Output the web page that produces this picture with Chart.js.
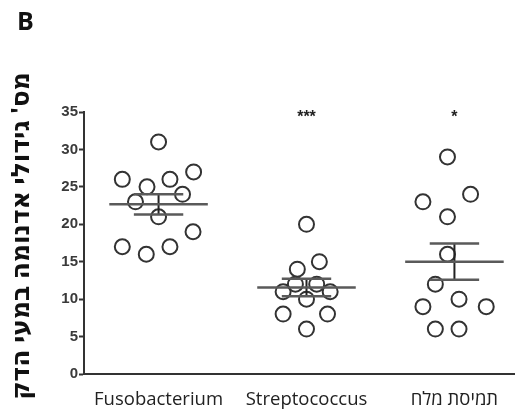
<!DOCTYPE html>
<html>
<head>
<meta charset="utf-8">
<script src="https://cdn.jsdelivr.net/npm/chart.js@4"></script>
<style>
  html, body { margin: 0; padding: 0; background: #fff; }
  #wrap { width: 524px; height: 412px; }
</style>
</head>
<body>
<div id="wrap"><canvas id="myChart"></canvas></div>
<script>
const categories = ["Fusobacterium", "Streptococcus", "תמיסת מלח"];
const yTicks = [0, 5, 10, 15, 20, 25, 30, 35];
const yTitle = "מס' גידולי אדנומה במעי הדק";
const stars = ["", "***", "*"];

// tumour counts per mouse
const fusobacterium = [31, 27, 26, 26, 25, 24, 23, 21, 19, 17, 17, 16];
const streptococcus = [20, 15, 14, 12, 12, 11, 11, 10, 8, 8, 6];
const saline = [29, 24, 23, 21, 16, 12, 10, 9, 9, 6, 6];

// horizontal spread of the dots inside each column
const fusoJitter = [0, 0.237, -0.245, 0.077, -0.078, 0.162, -0.156, 0, 0.233, -0.245, 0.077, -0.083];
const strepJitter = [0, 0.087, -0.062, -0.075, 0.069, -0.158, 0.16, 0, -0.158, 0.142, 0];
const salineJitter = [-0.047, 0.109, -0.213, -0.047, -0.047, -0.129, 0.031, -0.213, 0.215, -0.129, 0.031];

const groups = [fusobacterium, streptococcus, saline];
const jitters = [fusoJitter, strepJitter, salineJitter];

function meanSem(arr) {
    const n = arr.length;
    const m = arr.reduce((a, b) => a + b, 0) / n;
    const sd = Math.sqrt(arr.reduce((a, b) => a + (b - m) * (b - m), 0) / (n - 1));
    return [m, sd / Math.sqrt(n)];
}

const dotSets = groups.map((vals, g) => ({
    type: "scatter",
    data: vals.map((v, i) => ({ x: g + 1 + jitters[g][i], y: v })),
    pointRadius: 7.5,
    pointHoverRadius: 7.5,
    pointBorderWidth: 2,
    borderColor: "#333",
    backgroundColor: "rgba(0,0,0,0)",
}));

const meanData = [];
const semData = [];
const capData = [];
groups.forEach((vals, g) => {
    const c = g + 1;
    const [m, s] = meanSem(vals);
    meanData.push({ x: c - 0.333, y: m }, { x: c + 0.333, y: m }, { x: c, y: null });
    semData.push({ x: c, y: m - s }, { x: c, y: m + s }, { x: c, y: null });
    capData.push({ x: c - 0.167, y: m + s }, { x: c + 0.167, y: m + s }, { x: c, y: null });
    capData.push({ x: c - 0.167, y: m - s }, { x: c + 0.167, y: m - s }, { x: c, y: null });
});

function lineSet(data, color, width) {
    return {
        type: "line",
        data: data,
        borderColor: color,
        borderWidth: width,
        pointRadius: 0,
        spanGaps: false,
        fill: false,
    };
}

const extras = {
    id: "extras",
    afterDraw(chart) {
        const c = chart.ctx;
        const xs = chart.scales.x, ys = chart.scales.y;
        c.save();
        c.fillStyle = "#111";
        c.font = "bold 25px 'Open Sans', sans-serif";
        c.textAlign = "left";
        c.textBaseline = "alphabetic";
        c.fillText("B", 17, 30);

        // rotated y title
        c.save();
        c.translate(22, 236);
        c.rotate(-Math.PI / 2);
        c.font = "bold 25px 'Noto Sans', 'DejaVu Sans', sans-serif";
        c.textAlign = "center";
        c.textBaseline = "middle";
        c.fillText(yTitle, 0, 0);
        c.restore();

        c.font = "bold 16px 'Liberation Sans', sans-serif";
        c.textAlign = "center";
        c.textBaseline = "middle";
        c.fillStyle = "#222";
        stars.forEach((s, i) => {
            if (s) c.fillText(s, xs.getPixelForValue(i + 1), ys.getPixelForValue(34.2));
        });
        c.restore();
    },
};

new Chart(document.getElementById("myChart"), {
    data: {
        datasets: [
            lineSet(meanData, "#5a5a5a", 2.5),
            lineSet(capData, "#5a5a5a", 2.5),
            lineSet(semData, "#222", 2),
            ...dotSets,
        ],
    },
    options: {
        responsive: true,
        maintainAspectRatio: false,
        animation: false,
        layout: { padding: { top: 112, right: 0, left: 0, bottom: 0 } },
        plugins: { legend: { display: false }, tooltip: { enabled: false } },
        scales: {
            x: {
                type: "linear",
                min: 0.496,
                max: 3.406,
                afterBuildTicks: (s) => { s.ticks = [1, 2, 3].map(v => ({ value: v })); },
                afterFit: (s) => { s.height = 38; },
                ticks: {
                    callback: (v) => categories[v - 1],
                    color: "#222",
                    font: { family: "'Open Sans', sans-serif", size: 18.5 },
                    padding: 15,
                    maxRotation: 0,
                },
                grid: { drawOnChartArea: false, drawTicks: false },
                border: { color: "#333", width: 2 },
            },
            y: {
                min: 0,
                max: 35,
                afterBuildTicks: (s) => { s.ticks = yTicks.map(v => ({ value: v })); },
                afterFit: (s) => { s.width = 84; },
                ticks: {
                    color: "#3a3a3a",
                    font: { family: "'Liberation Sans', Arial, sans-serif", size: 15, weight: "bold" },
                    padding: 1,
                },
                grid: { drawOnChartArea: false, tickLength: 5, tickColor: "#333", tickWidth: 2 },
                border: { color: "#333", width: 2 },
            },
        },
    },
    plugins: [extras],
});
</script>
</body>
</html>
